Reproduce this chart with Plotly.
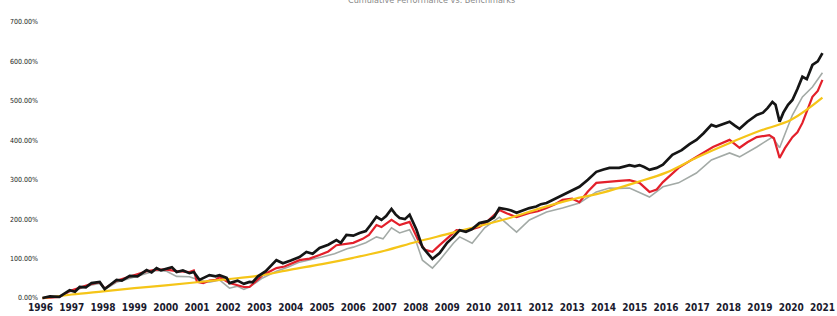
import plotly.graph_objects as go

# ---- data (cumulative return, %) ----
years = list(range(1996, 2022))
year_labels = [str(y) for y in years]
y_ticks = [0, 100, 200, 300, 400, 500, 600, 700]
y_tick_labels = [f"{v:.2f}%" for v in y_ticks]

black_t = [1996.06, 1996.3, 1996.6, 1996.93, 1997.1, 1997.25, 1997.45, 1997.63, 1997.89, 1998.05,
           1998.25, 1998.43, 1998.6, 1998.85, 1999.1, 1999.39, 1999.55, 1999.71, 1999.85, 2000.03,
           2000.2, 2000.35, 2000.55, 2000.76, 2000.9, 2001.08, 2001.25, 2001.4, 2001.6, 2001.72,
           2001.95, 2002.04, 2002.3, 2002.5, 2002.68, 2002.78, 2002.95, 2003.2, 2003.54, 2003.75,
           2004.0, 2004.28, 2004.5, 2004.7, 2004.92, 2005.2, 2005.46, 2005.6, 2005.78, 2006.0,
           2006.2, 2006.4, 2006.55, 2006.74, 2006.9, 2007.05, 2007.22, 2007.35, 2007.48, 2007.65,
           2007.8, 2008.02, 2008.21, 2008.4, 2008.53, 2008.76, 2009.0, 2009.2, 2009.4, 2009.6,
           2009.8, 2010.03, 2010.3, 2010.5, 2010.67, 2010.9, 2011.05, 2011.22, 2011.4, 2011.63,
           2011.85, 2012.0, 2012.18, 2012.4, 2012.69, 2012.9, 2013.05, 2013.23, 2013.5, 2013.77,
           2014.0, 2014.19, 2014.5, 2014.83, 2015.0, 2015.15, 2015.3, 2015.47, 2015.7, 2015.9,
           2016.2, 2016.5, 2016.75, 2016.97, 2017.2, 2017.45, 2017.6, 2017.8, 2018.03, 2018.2,
           2018.35, 2018.6, 2018.75, 2018.9, 2019.1, 2019.25, 2019.4, 2019.5, 2019.63, 2019.75,
           2019.9, 2020.04, 2020.2, 2020.36, 2020.5, 2020.68, 2020.85, 2021.0]
black_v = [0, 4, 3, 20, 16, 28, 27, 38, 41, 23,
           35, 46, 44, 56, 55, 71, 65, 76, 70, 74,
           78, 66, 70, 63, 66, 46, 52, 58, 55, 58,
           51, 38, 44, 36, 41, 40, 55, 68, 96, 88,
           95, 104, 117, 112, 127, 135, 147, 140, 160, 158,
           165, 170, 185, 206, 198, 208, 226, 212, 203, 200,
           211, 173, 129, 110, 99, 114, 140, 155, 172, 168,
           175, 190, 195, 205, 228, 225, 222, 216, 222, 228,
           232, 238, 241, 250, 261, 270, 275, 282, 300, 320,
           326, 330, 330, 337, 334, 337, 332, 325, 330, 338,
           363, 375, 390, 401, 418, 439, 435, 440, 447, 437,
           429, 447, 455, 464, 470, 482, 497, 490, 447, 470,
           490, 502, 530, 561, 555, 591, 600, 621]

red_t = [1996.06, 1996.6, 1996.93, 1997.25, 1997.63, 1997.89, 1998.05, 1998.43, 1998.85, 1999.39,
         1999.71, 2000.03, 2000.35, 2000.76, 2000.9, 2001.0, 2001.2, 2001.4, 2001.6, 2001.72,
         2002.04, 2002.3, 2002.5, 2002.68, 2002.9, 2003.1, 2003.54, 2003.8, 2004.28, 2004.6,
         2004.92, 2005.2, 2005.46, 2005.78, 2006.0, 2006.3, 2006.5, 2006.74, 2006.9, 2007.22,
         2007.48, 2007.8, 2008.1, 2008.3, 2008.53, 2008.76, 2009.0, 2009.3, 2009.6, 2010.03,
         2010.3, 2010.67, 2010.9, 2011.22, 2011.63, 2011.9, 2012.18, 2012.45, 2012.69, 2013.0,
         2013.23, 2013.5, 2013.77, 2014.19, 2014.5, 2014.83, 2015.15, 2015.47, 2015.7, 2015.9,
         2016.4, 2016.97, 2017.5, 2018.03, 2018.35, 2018.6, 2018.9, 2019.3, 2019.45, 2019.63,
         2019.8, 2020.04, 2020.2, 2020.36, 2020.68, 2020.85, 2021.0]
red_v = [0, 3, 18, 26, 36, 40, 24, 44, 54, 68,
         72, 72, 68, 66, 70, 41, 38, 44, 46, 53,
         38, 33, 28, 28, 45, 58, 76, 80, 96, 100,
         109, 118, 134, 138, 140, 150, 160, 185, 180, 198,
         185, 193, 142, 122, 117, 134, 150, 172, 170, 180,
         195, 223, 215, 205, 216, 220, 228, 238, 249, 252,
         243, 270, 292, 294, 297, 299, 292, 269, 275, 294,
         330, 358, 383, 401, 381, 395, 408, 413, 405, 355,
         380, 408, 420, 444, 510, 525, 553]

gray_t = [1996.06, 1996.6, 1996.93, 1997.25, 1997.63, 1997.89, 1998.05, 1998.43, 1998.85, 1999.39,
          1999.71, 2000.03, 2000.35, 2000.76, 2001.08, 2001.4, 2001.72, 2002.04, 2002.3, 2002.5,
          2002.68, 2002.9, 2003.1, 2003.54, 2003.9, 2004.28, 2004.6, 2005.0, 2005.4, 2005.8,
          2006.0, 2006.4, 2006.74, 2006.95, 2007.22, 2007.48, 2007.8, 2008.02, 2008.21, 2008.4,
          2008.53, 2008.76, 2009.0, 2009.2, 2009.4, 2009.8, 2010.2, 2010.67, 2011.22, 2011.63,
          2012.18, 2012.69, 2013.23, 2013.77, 2014.19, 2014.5, 2014.83, 2015.2, 2015.47, 2015.9,
          2016.4, 2016.97, 2017.45, 2018.03, 2018.35, 2018.9, 2019.4, 2019.63, 2020.04, 2020.36,
          2020.68, 2021.0]
gray_v = [0, 3, 16, 24, 33, 37, 22, 40, 50, 64,
          70, 68, 55, 54, 45, 40, 46, 25, 30, 22,
          28, 40, 51, 68, 78, 91, 96, 104, 112, 125,
          129, 140, 155, 150, 178, 165, 173, 140, 96, 85,
          76, 96, 120, 139, 155, 139, 178, 205, 167, 198,
          218, 228, 241, 269, 279, 278, 279, 266, 256, 282,
          292, 317, 350, 368, 358, 383, 408, 381, 464, 510,
          535, 571]

yellow_t = [1996.06, 1997, 1998, 1999, 2000, 2001, 2002, 2003, 2004, 2005, 2006, 2007, 2008,
            2009, 2010, 2011, 2012, 2013, 2014, 2015, 2016, 2017, 2018, 2019, 2020, 2021]
yellow_v = [0, 9, 17, 25, 32, 40, 48, 57, 72, 86, 102, 120, 142,
            162, 182, 203, 228, 250, 268, 292, 318, 357, 392, 424, 452, 508]

FONT = "DejaVu Sans Condensed, Liberation Sans Narrow, Arial Narrow, sans-serif"

fig = go.Figure()
fig.add_trace(go.Scatter(x=gray_t, y=gray_v, mode="lines", name="Index 2",
                         line=dict(color="#a3aaa6", width=1.6)))
fig.add_trace(go.Scatter(x=red_t, y=red_v, mode="lines", name="Index 1",
                         line=dict(color="#e3202b", width=2.2)))
fig.add_trace(go.Scatter(x=yellow_t, y=yellow_v, mode="lines", name="Target",
                         line=dict(color="#f5c518", width=2.2, shape="spline")))
fig.add_trace(go.Scatter(x=black_t, y=black_v, mode="lines", name="Fund",
                         line=dict(color="#151515", width=2.7)))

fig.add_annotation(text="Cumulative Performance vs. Benchmarks", xref="paper", yref="paper",
                   x=0.5, y=1, yanchor="bottom", yshift=11, showarrow=False,
                   font=dict(size=9, color="#8a8a8a", family=FONT))

fig.update_layout(
    width=837, height=316,
    margin=dict(l=39, r=13, t=18, b=16),
    paper_bgcolor="white", plot_bgcolor="white",
    showlegend=False,
    xaxis=dict(range=[1995.95, 2021.05], tickvals=years, ticktext=year_labels,
               showgrid=False, zeroline=False, showline=False, ticks="", automargin=False,
               tickfont=dict(size=10, color="#1a1a2e", family=FONT, weight="bold")),
    yaxis=dict(range=[-5, 710], tickvals=y_ticks, ticktext=y_tick_labels,
               showgrid=False, zeroline=False, showline=False, ticks="", automargin=False,
               tickfont=dict(size=7, color="#222222", family=FONT)),
)

fig.write_html("out.html", config={"displayModeBar": False},
               post_script="document.body.style.margin='0';")
